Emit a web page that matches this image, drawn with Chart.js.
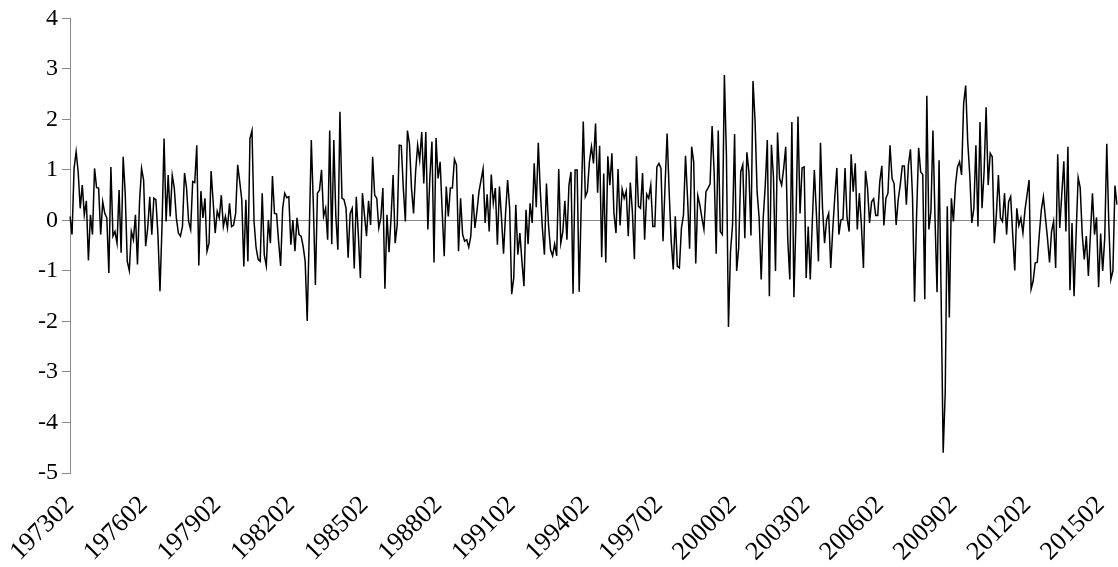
<!DOCTYPE html>
<html><head><meta charset="utf-8">
<script src="https://cdn.jsdelivr.net/npm/chart.js@4.4.1/dist/chart.umd.min.js"></script>
<style>html,body{margin:0;padding:0;background:#fff}#wrap{width:1118px;height:567px}</style>
</head><body><div id="wrap"><canvas id="c" width="1118" height="567"></canvas></div>
<script>
const startYear = 1973, startMonth = 2;
const tickLabels = ['197302','197602','197902','198202','198502','198802','199102','199402','199702','200002','200302','200602','200902','201202','201502'];
const yTicks = [-5,-4,-3,-2,-1,0,1,2,3,4];

const part1 = [0.08,-0.28,1.03,1.36,0.96,0.24,0.7,0.11,0.39,-0.79,0.11,-0.28,1.03,0.65,0.64,-0.28,0.37,0.14,0.05,-1.04,1.06,-0.31,-0.22,-0.45,0.6,-0.64,1.26,0.54,-0.81,-0.99,-0.22,-0.38,0.11,-0.87,0.37,1.03,0.8,-0.51,-0.15,0.47,-0.28,0.44,0.41,-0.28];
const part2 = [-1.4,-0.1,1.62,-0.02,0.9,0.08,0.89,0.64,0.05,-0.25,-0.31,-0.12,0.94,0.64,-0.02,-0.18,0.77,0.75,1.49,-0.89,0.58,0.05,0.44,-0.61,-0.45,0.98,0.37,-0.25,0.18,0.05,0.5,-0.12,0.08,-0.15,0.34,-0.12,-0.09,0.14,1.1,0.77,0.41,-0.91,0.41,-0.81,1.62,1.78];
const part3 = [-0.02,-0.54,-0.77,-0.81,0.54,-0.68,-0.9,0.01,-0.45,0.88,0.14,0.13,-0.41,-0.9,0.24,0.54,0.45,0.47,-0.48,0.01,-0.61,0.05,-0.28,-0.31,-0.51,-0.81,-1.99,-0.25,1.59,0.31,-1.28,0.54,0.6,1.0,0.08,0.24,-0.38,1.78,-0.47,1.59,0.08,-0.58,2.15,0.44,0.41,0.24,-0.74,0.14,0.24];
const part4 = [-0.95,0.47,-0.28,-1.14,0.54,0.11,-0.31,0.39,-0.09,1.26,0.5,0.44,-0.15,0.05,0.64,-1.35,0.11,-0.63,0.05,0.9,-0.45,-0.09,1.49,1.48,0.64,-0.02,1.78,1.52,0.64,0.14,0.96,1.49,1.19,1.75,0.73,1.75,-0.18,0.87,1.56,-0.83,1.63,0.83,1.16,0.18,-0.71,0.67,0.08];
const part5 = [0.64,0.64,1.21,1.1,-0.61,0.44,-0.28,-0.41,-0.38,-0.53,-0.31,0.52,-0.15,0.18,0.57,0.8,1.02,-0.05,0.52,-0.22,0.91,0.34,0.64,-0.48,0.67,0.05,-0.66,0.14,0.8,0.24,-1.46,-1.14,0.31,-0.68,-0.25,-0.81,-1.3,0.21,-0.47,0.34,-0.05,1.13,0.26,1.54,0.57,-0.15,-0.68,0.73];
const part6 = [-0.09,-0.58,-0.7,-0.47,-0.7,1.02,-0.45,-0.22,0.39,-0.38,0.7,0.96,-1.45,1.0,1.0,-1.41,0.31,1.96,0.47,0.57,1.16,1.46,1.13,1.92,0.55,1.48,-0.73,0.93,-0.83,1.27,0.7,1.33,0.14,-0.25,1.02,-0.1,0.62,0.44,0.58,-0.31,0.75,0.18,-0.77,1.27,0.28,0.24,0.94,-0.38];
const part7 = [0.52,0.44,0.7,-0.12,-0.12,1.06,1.13,1.03,-0.41,0.7,1.72,0.57,-0.41,-0.97,0.08,-0.91,-0.94,-0.15,0.11,1.28,0.44,-0.56,1.46,1.16,-0.85,0.49,0.31,0.05,-0.18,0.57,0.64,0.72,1.87,0.96,-0.66,1.78,-0.22,-0.28,2.88,1.29,-2.11,-0.61,-0.09,1.71,-1.0,-0.54,0.96,1.1];
const part8 = [-0.35,1.35,0.96,-0.3,2.76,1.98,0.57,0.05,-1.17,0.05,0.7,1.59,-1.5,1.5,0.87,-1.0,1.74,0.83,0.7,1.03,1.46,-0.38,-1.17,1.95,-1.52,-0.02,2.06,0.14,1.04,1.06,-1.14,-0.12,-1.17,-0.02,1.0,0.14,-0.81,1.54,0.24,-0.45,0.01,0.14,-0.94,-0.18,0.47,1.04,-0.28,0.01];
const part9 = [0.03,1.04,0.05,-0.22,1.31,0.57,1.13,-0.18,0.54,-0.09,-0.94,0.98,0.64,-0.05,0.37,0.43,0.1,0.1,0.77,1.08,-0.1,0.44,0.54,1.49,0.83,0.73,-0.09,0.41,0.7,1.08,1.08,0.31,1.1,1.41,0.47,-1.61,0.11,1.44,0.96,0.91,-1.56,2.47,-0.18,0.18,1.78,0.05,-1.42,1.19];
const part10 = [-1.5,-4.6,-3.4,0.28,-1.92,0.44,-0.02,0.7,1.06,1.16,0.9,2.31,2.67,1.56,0.9,-0.05,0.24,1.49,-0.12,1.95,0.24,0.96,2.24,0.7,1.33,1.26,-0.45,0.11,0.9,0.05,-0.02,0.54,-0.28,0.37,0.47,-0.28,-0.99,0.24,-0.1,0.05,-0.25,0.21,0.5,0.8,-1.36,-1.2,-0.84,-0.83];
const part11 = [-0.28,0.21,0.47,0.05,-0.35,-0.83,-0.22,-0.02,-0.94,1.31,-0.15,0.52,1.17,-0.22,1.46,-1.38,-0.05,-1.5,-0.28,0.85,0.65,-0.28,-0.77,-0.31,-1.1,-0.28,0.54,-0.28,0.06,-1.32,-0.26,-1.0,-0.35,1.52,-0.09,-1.17,-1.0,0.69,0.31];

const values = [].concat(part1,part2,part3,part4,part5,part6,part7,part8,part9,part10,part11);
const categories = values.map((_, i) => {
  const m = startMonth - 1 + i;
  return String(startYear + Math.floor(m / 12)) + String(m % 12 + 1).padStart(2, '0');
});

const axisGray = '#898989';
const serif = "'Liberation Serif', 'Times New Roman', serif";

new Chart(document.getElementById('c'), {
  type: 'line',
  data: {
    labels: categories,
    datasets: [{
      data: values,
      borderColor: '#000',
      borderWidth: 1.5,
      pointRadius: 0,
      tension: 0,
      fill: false
    }]
  },
  options: {
    responsive: false,
    animation: false,
    events: [],
    plugins: { legend: { display: false }, tooltip: { enabled: false } },
    layout: { padding: { top: 2, right: 1, bottom: 0, left: 0 } },
    scales: {
      x: {
        grid: { display: false, drawTicks: false },
        border: { display: false },
        ticks: {
          autoSkip: false,
          minRotation: 45,
          maxRotation: 45,
          padding: 17,
          color: '#000',
          font: { family: serif, size: 26 },
          callback: function (v) {
            const l = this.getLabelForValue(v);
            return tickLabels.includes(l) ? l : '';
          }
        },
        afterFit: s => { s.height = 94; s.paddingRight = 0; s.paddingLeft = 0; }
      },
      y: {
        min: yTicks[0],
        max: yTicks[yTicks.length - 1],
        afterBuildTicks: s => { s.ticks = yTicks.map(v => ({ value: v })); },
        ticks: { color: '#000', font: { family: serif, size: 24 }, padding: 4 },
        grid: {
          color: c => (c.tick && c.tick.value === 0) ? axisGray : 'rgba(0,0,0,0)',
          tickColor: axisGray,
          tickLength: 8,
          lineWidth: 1
        },
        border: { display: true, color: axisGray, width: 1 },
        afterFit: s => { s.width = 70; }
      }
    }
  }
});
</script>
</body></html>
